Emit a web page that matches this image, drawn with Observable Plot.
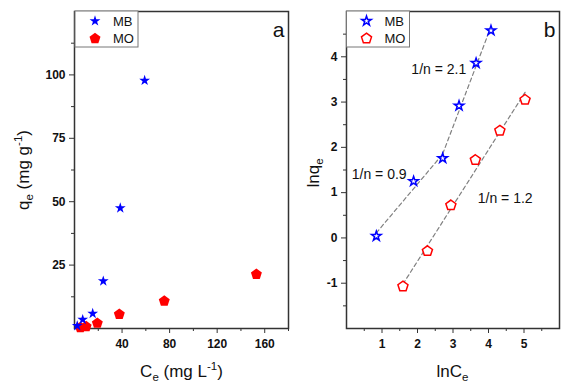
<!DOCTYPE html>
<html><head><meta charset="utf-8">
<script src="https://cdn.jsdelivr.net/npm/d3@7"></script>
<script src="https://cdn.jsdelivr.net/npm/@observablehq/plot@0.6"></script>
<style>
body{margin:0;background:#fff;font-family:Arial,"Liberation Sans",sans-serif;}
#wrap{display:flex;width:576px;height:391px;overflow:hidden;}
svg{overflow:visible;}
</style></head><body><div id="wrap"></div>
<script>
// Panel a: q_e vs C_e
const mbCe = [2.3, 6.9, 15.3, 24.2, 38.5, 59.0];
const mbQe = [1.05, 3.5, 5.9, 18.7, 47.5, 97.8];
const moCe = [4.9, 9.8, 19.2, 37.7, 75.5, 153];
const moQe = [0.35, 0.76, 2.1, 5.6, 10.8, 21.4];
// Panel b: ln q_e vs ln C_e
const mbLnCe = [0.84, 1.89, 2.71, 3.17, 3.65, 4.07];
const mbLnQe = [0.04, 1.25, 1.76, 2.92, 3.86, 4.58];
const moLnCe = [1.59, 2.28, 2.94, 3.63, 4.32, 5.03];
const moLnQe = [-1.07, -0.29, 0.72, 1.72, 2.37, 3.05];
// fit annotations
const fitLabels = ["1/n = 0.9", "1/n = 2.1", "1/n = 1.2"];
const fitLabelX = [0.92, 2.6, 4.47];
const fitLabelY = [1.41, 3.71, 0.87];
// ticks
const aXTicks = [40, 80, 120, 160], aXMinor = [20, 60, 100, 140, 180];
const aYTicks = [25, 50, 75, 100], aYMinor = [12.5, 37.5, 62.5, 87.5, 112.5];
const bXTicks = [1, 2, 3, 4, 5], bXMinor = [0.5, 1.5, 2.5, 3.5, 4.5, 5.5];
const bYTicks = [-1, 0, 1, 2, 3, 4], bYMinor = [-1.5, -0.5, 0.5, 1.5, 2.5, 3.5, 4.5];
const seriesNames = ["MB", "MO"];
const seriesColors = ["#0000ff", "#ff0000"];

const pentagon = {
  draw(ctx, size) {
    const R = Math.sqrt(size / Math.PI) * 1.15;
    for (let i = 0; i < 5; i++) {
      const a = -Math.PI / 2 + i * 2 * Math.PI / 5;
      const px = R * Math.cos(a), py = R * Math.sin(a);
      if (i === 0) ctx.moveTo(px, py); else ctx.lineTo(px, py);
    }
    ctx.closePath();
  }
};

const zip = (xs, ys) => xs.map((x, i) => ({x, y: ys[i]}));
const mbA = zip(mbCe, mbQe), moA = zip(moCe, moQe);
const mbB = zip(mbLnCe, mbLnQe), moB = zip(moLnCe, moLnQe);
const labels = fitLabels.map((t, i) => ({t, x: fitLabelX[i], y: fitLabelY[i]}));

const axisCol = "#333";
function axes(xT, xM, yT, yM) {
  const common = {stroke: axisCol, fill: "#111", label: null, fontSize: 12, fontWeight: "bold"};
  return [
    Plot.axisX({...common, ticks: xT, tickSize: 5, tickPadding: 6, tickFormat: d => String(d)}),
    Plot.axisX({...common, ticks: xM, tickSize: 3, tickFormat: () => ""}),
    Plot.axisY({...common, ticks: yT, tickSize: 5, tickPadding: 4, tickFormat: d => String(d)}),
    Plot.axisY({...common, ticks: yM, tickSize: 3, tickFormat: () => ""}),
    Plot.frame({stroke: axisCol, strokeWidth: 1.5})
  ];
}
const H = 391;
const plotA = Plot.plot({
  width: 290, height: H, marginLeft: 74, marginRight: 2, marginTop: 11, marginBottom: 63,
  style: {fontFamily: "Arial, 'Liberation Sans', sans-serif", background: "white"},
  x: {domain: [0, 180]}, y: {domain: [0, 125]},
  marks: [
    ...axes(aXTicks, aXMinor, aYTicks, aYMinor),
    Plot.dot(moA, {x: "x", y: "y", symbol: pentagon, r: 5, fill: seriesColors[1], stroke: "none"}),
    Plot.dot(mbA, {x: "x", y: "y", symbol: "star", r: 3.4, fill: seriesColors[0], stroke: "none"}),
    Plot.text(["a"], {text: d => d, frameAnchor: "top-right", dx: -10, dy: 19, fontSize: 21, textAnchor: "middle", lineAnchor: "middle", fill: "#111"})
  ]
});
const plotB = Plot.plot({
  width: 286, height: H, marginLeft: 56, marginRight: 17, marginTop: 11, marginBottom: 63,
  style: {fontFamily: "Arial, 'Liberation Sans', sans-serif", background: "white"},
  x: {domain: [0, 6]}, y: {domain: [-2, 5]},
  marks: [
    ...axes(bXTicks, bXMinor, bYTicks, bYMinor),
    Plot.linearRegressionY(mbB.slice(0, 3), {x: "x", y: "y", ci: 0, stroke: "#808080", strokeWidth: 1.2, strokeDasharray: "4,3"}),
    Plot.linearRegressionY(mbB.slice(2), {x: "x", y: "y", ci: 0, stroke: "#808080", strokeWidth: 1.2, strokeDasharray: "4,3"}),
    Plot.linearRegressionY(moB, {x: "x", y: "y", ci: 0, stroke: "#808080", strokeWidth: 1.2, strokeDasharray: "4,3"}),
    Plot.dot(moB, {x: "x", y: "y", symbol: pentagon, r: 4.6, fill: "white", stroke: seriesColors[1], strokeWidth: 1.5}),
    Plot.dot(mbB, {x: "x", y: "y", symbol: "star", r: 3.0, fill: "white", stroke: seriesColors[0], strokeWidth: 1.5}),
    Plot.text(labels, {x: "x", y: "y", text: "t", fontSize: 14, textAnchor: "middle", lineAnchor: "middle", fill: "#111"}),
    Plot.text(["b"], {text: d => d, frameAnchor: "top-right", dx: -10, dy: 19, fontSize: 21, textAnchor: "middle", lineAnchor: "middle", fill: "#111"})
  ]
});
const wrap = document.getElementById("wrap");
wrap.appendChild(plotA);
wrap.appendChild(plotB);
d3.selectAll("[aria-label='x-axis tick label'], [aria-label='y-axis tick label']").attr("font-weight", "bold");

function addTitle(svg, x, y, rotate, parts) {
  const t = d3.select(svg).append("text")
    .attr("transform", `translate(${x},${y})` + (rotate ? " rotate(-90)" : ""))
    .attr("text-anchor", "middle").attr("font-size", 17).attr("fill", "#111")
    .attr("font-family", "Arial, 'Liberation Sans', sans-serif");
  for (const [s, kind] of parts) {
    const sp = t.append("tspan").text(s);
    if (kind === "sub") sp.attr("font-size", 11.5).attr("dy", 4);
    else if (kind === "sup") sp.attr("font-size", 11.5).attr("dy", -7);
    else if (kind === "afterSub") sp.attr("dy", -4);
    else if (kind === "afterSup") sp.attr("dy", 7);
  }
}
addTitle(plotA, 181.5, 377, false, [["C", ""], ["e", "sub"], [" (mg L", "afterSub"], ["-1", "sup"], [")", "afterSup"]]);
addTitle(plotA, 29, 170, true, [["q", ""], ["e", "sub"], [" (mg g", "afterSub"], ["-1", "sup"], [")", "afterSup"]]);
addTitle(plotB, 162.5, 377, false, [["lnC", ""], ["e", "sub"]]);
addTitle(plotB, 29, 173, true, [["lnq", ""], ["e", "sub"]]);

function addLegend(svg, x0, y0, filled) {
  const g = d3.select(svg).append("g");
  g.append("rect").attr("x", x0).attr("y", y0).attr("width", 63).attr("height", 36)
    .attr("fill", "white").attr("stroke", "#777").attr("stroke-width", 1);
  const syms = [d3.symbolStar, pentagon];
  const sizes = filled ? [Math.PI * 3.4 * 3.4, Math.PI * 25] : [Math.PI * 3.0 * 3.0, Math.PI * 4.6 * 4.6];
  seriesNames.forEach((name, i) => {
    const cy = y0 + 10 + i * 17.5;
    g.append("path").attr("d", d3.symbol(syms[i], sizes[i])())
      .attr("transform", `translate(${x0 + 20},${cy})`)
      .attr("fill", filled ? seriesColors[i] : "white")
      .attr("stroke", filled ? "none" : seriesColors[i]).attr("stroke-width", 1.5);
    g.append("text").attr("x", x0 + 38).attr("y", cy).attr("dy", "0.35em")
      .attr("text-anchor", "start")
      .attr("font-size", 13).attr("fill", "#111").text(name);
  });
}
addLegend(plotA, 75, 11, true);
addLegend(plotB, 56.5, 11, false);
</script></body></html>
